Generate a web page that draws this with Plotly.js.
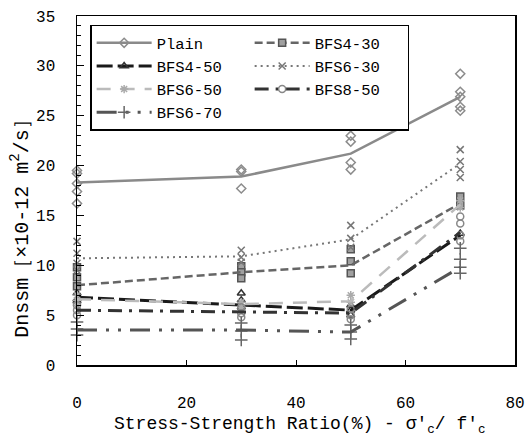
<!DOCTYPE html>
<html>
<head>
<meta charset="utf-8">
<script src="https://cdn.plot.ly/plotly-3.0.1.min.js"></script>
<style>html,body{margin:0;padding:0;background:#fff}#chart{width:531px;height:437px}</style>
</head>
<body>
<div id="chart"></div>
<script>
// Stress-strength ratio levels (%)
const stressLevels = [0, 30, 50, 70];
const seriesNames = ["Plain", "BFS4-30", "BFS4-50", "BFS6-30", "BFS6-50", "BFS8-50", "BFS6-70"];

// Mean lines (x10^-12 m2/s)
const plainMean = [18.3, 18.9, 21.2, 26.9];
const bfs430Mean = [8.0, 9.3, 10.0, 16.2];
const bfs450Mean = [6.8, 6.0, 5.5, 13.0];
const bfs630Mean = [10.7, 10.9, 12.6, 20.2];
const bfs650Mean = [6.6, 6.1, 6.4, 16.1];
const bfs850Mean = [5.5, 5.35, 5.2, 13.3];
const bfs670Mean = [3.5, 3.5, 3.3, 9.8];

// Individual specimens at each stress level (same order as stressLevels)
const plainSpec = [[19.5, 19.2, 18.2, 17.4, 16.2], [19.6, 19.4, 17.7], [23.0, 22.4, 20.3, 19.6], [29.2, 27.4, 26.9, 25.9, 25.5]];
const bfs430Spec = [[9.8, 8.8, 7.9], [9.9, 9.3, 8.7], [11.6, 10.4, 9.2], [16.9, 16.0]];
const bfs450Spec = [[7.2, 6.6, 6.4], [7.2, 6.5, 5.8], [6.0, 5.5, 5.0], [13.2]];
const bfs630Spec = [[12.4, 11.2, 10.2, 9.5], [11.5, 10.8, 10.3], [14.0, 12.7, 11.8], [21.6, 20.4, 19.6, 18.8]];
const bfs650Spec = [[7.0, 6.5, 6.0], [6.3, 5.8], [7.0, 6.3], [16.5, 15.8]];
const bfs850Spec = [[6.0, 5.5, 5.0], [5.8, 5.2, 4.8], [5.6, 5.0, 4.6], [14.9, 14.2, 13.0, 12.4]];
const bfs670Spec = [[4.3, 3.6, 3.0], [4.2, 3.4, 2.5], [4.0, 3.3, 2.6], [11.7, 10.6, 9.8, 9.2]];

const xTicks = [0, 20, 40, 60, 80];
const yTicks = [0, 5, 10, 15, 20, 25, 30, 35];

const means = [plainMean, bfs430Mean, bfs450Mean, bfs630Mean, bfs650Mean, bfs850Mean, bfs670Mean];
const specs = [plainSpec, bfs430Spec, bfs450Spec, bfs630Spec, bfs650Spec, bfs850Spec, bfs670Spec];

const styles = [
  {line: {color: '#8a8a8a', width: 2.5, dash: 'solid'}, marker: {symbol: 'diamond-open', color: '#8c8c8c', size: 7, line: {width: 1.5}}},
  {line: {color: '#666666', width: 2.5, dash: '8px,4px'}, marker: {symbol: 'square', color: '#a0a0a0', size: 7, line: {color: '#555', width: 1.5}}},
  {line: {color: '#1a1a1a', width: 3, dash: '16px,5px'}, marker: {symbol: 'triangle-up-open', color: '#333', size: 7, line: {width: 1.5}}},
  {line: {color: '#777777', width: 2, dash: '2px,4px'}, marker: {symbol: 'x-thin-open', color: '#777', size: 7, line: {width: 1.5}}},
  {line: {color: '#bbbbbb', width: 2.5, dash: '14px,10px'}, marker: {symbol: 'asterisk-open', color: '#aaaaaa', size: 7, line: {width: 1.5}}},
  {line: {color: '#333333', width: 3, dash: '14px,7px,3px,7px'}, marker: {symbol: 'circle-open', color: '#888', size: 7, line: {width: 1.5}}},
  {line: {color: '#555555', width: 3, dash: '20px,9px,3px,9px,3px,9px'}, marker: {symbol: 'cross-thin-open', color: '#666', size: 9, line: {width: 1.5}}}
];

const traces = [];
seriesNames.forEach((name, i) => {
  const sx = [], sy = [];
  specs[i].forEach((vals, k) => vals.forEach(v => { sx.push(stressLevels[k]); sy.push(v); }));
  traces.push({x: sx, y: sy, mode: 'markers', marker: styles[i].marker, showlegend: false, legendgroup: name, hoverinfo: 'skip', cliponaxis: false});
  traces.push({x: stressLevels, y: means[i], mode: 'lines', line: styles[i].line, showlegend: false, legendgroup: name});
});
seriesNames.forEach((name, i) => {
  traces.push({x: [null], y: [null], name: name, mode: 'lines+markers', line: styles[i].line, marker: styles[i].marker, legendgroup: name, showlegend: true});
});

const FONT = 'Liberation Mono, DejaVu Sans Mono, monospace';

const layout = {
  width: 531, height: 437,
  margin: {l: 77, r: 16, t: 16, b: 72},
  paper_bgcolor: '#fff', plot_bgcolor: '#fff',
  font: {family: FONT, size: 16, color: '#000'},
  showlegend: true,
  legend: {
    orientation: 'h', x: 0.03, xanchor: 'left', y: 0.975, yanchor: 'top',
    bgcolor: '#fff', bordercolor: '#000', borderwidth: 1.5,
    itemwidth: 55, entrywidth: 88, traceorder: 'normal',
    font: {family: FONT, size: 15.5, color: '#000'}
  },
  xaxis: {
    range: [0, 80], tickvals: xTicks, ticktext: xTicks.map(String),
    ticks: 'inside', ticklen: 5, tickcolor: '#000',
    showline: true, linecolor: '#000', linewidth: 1.5, mirror: true,
    showgrid: false, zeroline: false, ticklabelstandoff: 22,
    tickfont: {family: FONT, size: 16, color: '#000'}
  },
  yaxis: {
    range: [0, 35], tickvals: yTicks, ticktext: yTicks.map(String),
    ticks: 'inside', ticklen: 7, tickcolor: '#000',
    minor: {dtick: 1, ticks: 'inside', ticklen: 4, tickcolor: '#000', showgrid: false},
    showline: true, linecolor: '#000', linewidth: 1.5, mirror: true,
    showgrid: false, zeroline: false, ticklabelstandoff: 17,
    tickfont: {family: FONT, size: 16, color: '#000'}
  },
  annotations: [
    {text: 'Stress-Strength Ratio(%) - σ\'<sub>c</sub>/ f\'<sub>c</sub>', xref: 'paper', yref: 'paper',
     x: 0.509, y: -0.172, xanchor: 'center', yanchor: 'middle', showarrow: false,
     font: {family: FONT, size: 18, color: '#000'}},
    {text: 'Dnssm［×10-12 m<sup>2</sup>/s］', xref: 'paper', yref: 'paper',
     x: -0.13, y: 0.405, xanchor: 'center', yanchor: 'middle', textangle: -90, showarrow: false,
     font: {family: FONT, size: 20, color: '#000'}}
  ]
};

Plotly.newPlot('chart', traces, layout, {displayModeBar: false, staticPlot: true});
</script>
</body>
</html>
